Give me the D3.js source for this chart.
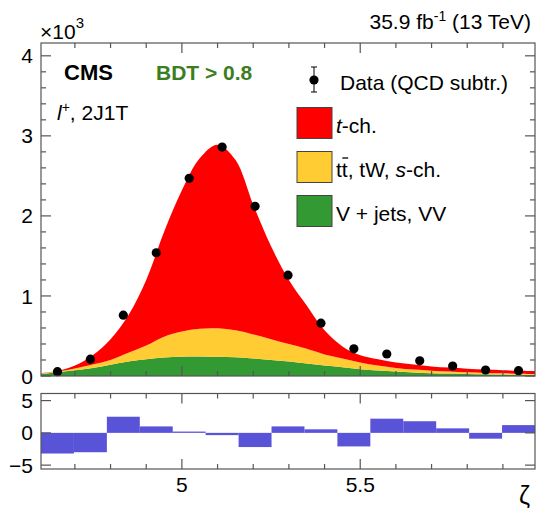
<!DOCTYPE html>
<html>
<head>
<meta charset="utf-8">
<script src="https://cdn.jsdelivr.net/npm/d3@7"></script>
<style>
  body { margin: 0; background: #fff; }
  text { font-family: "Liberation Sans", Arial, Helvetica, sans-serif; }
</style>
</head>
<body>
<svg id="chart"></svg>
<script>
// template sampling points in zeta, stacked components (events)
const zetaGrid = [4.60, 4.65, 4.70, 4.75, 4.80, 4.85, 4.90, 4.95, 5.00, 5.05, 5.10, 5.15, 5.20, 5.25, 5.30,
                  5.35, 5.40, 5.45, 5.50, 5.55, 5.60, 5.65, 5.70, 5.75, 5.80, 5.85, 5.90, 5.95, 6.00];
const vjets  = [22, 46, 72, 100, 140, 180, 210, 230, 240, 245, 240, 235, 220, 200, 180,
                155, 130, 110, 85, 68, 55, 45, 35, 30, 25, 21, 18, 15, 13];
const topBkg = [6, 9, 23, 45, 60, 110, 170, 260, 315, 345, 355, 335, 300, 260, 220,
                185, 140, 110, 85, 62, 45, 35, 31, 25, 21, 18, 15, 13, 11];
const tch    = [4, 7, 35, 115, 260, 470, 820, 1310, 1765, 2130, 2295, 2130, 1620, 1160, 800,
                540, 300, 150, 90, 80, 70, 65, 54, 50, 44, 41, 39, 37, 36];

// data histogram (15 bins)
const binRange = [4.605, 5.99];
const nBins = 15;
const dataCounts = [54, 210, 760, 1540, 2470, 2860, 2120, 1260, 660, 340, 275, 190, 125, 75, 66];
const dataErr    = [12, 20, 30, 40, 45, 50, 45, 35, 28, 22, 20, 17, 14, 12, 11];
const pulls      = [-3.2, -3.0, 2.5, 1.0, 0.2, -0.35, -2.2, 1.0, 0.55, -2.1, 2.2, 1.8, 0.7, -0.9, 1.2];

const yTickLabels = ['0', '1', '2', '3', '4'];
const pullTicks = [-5, 0, 5];
const pullLabels = ['\u22125', '0', '5'];
const xTickLabels = ['5', '5.5'];

const width = 537;
const height = 520;

const svg = d3.select('#chart')
  .attr('width', width)
  .attr('height', height);

const x = d3.scaleLinear().domain(binRange).range([41, 535]);
const y = d3.scaleLinear().domain([0, 4160]).range([376, 43]);
const yp = d3.scaleLinear().domain([-5.6, 6.1]).range([469, 393.5]);

const frameCol = '#555';
const fs = 21;

svg.append('defs').append('clipPath').attr('id', 'clipMain')
  .append('rect')
    .attr('x', x.range()[0]).attr('y', y.range()[1])
    .attr('width', x.range()[1] - x.range()[0])
    .attr('height', y.range()[0] - y.range()[1]);

// stacked templates
const table = zetaGrid.map((z, i) => ({z: z, vjets: vjets[i], top: topBkg[i], tch: tch[i]}));
const stack = d3.stack().keys(['vjets', 'top', 'tch'])(table);
const colours = {vjets: '#339933', top: '#ffcc33', tch: '#ff0000'};

const area = d3.area()
  .x(d => x(d.data.z))
  .y0(d => y(d[0]))
  .y1(d => y(d[1]))
  .curve(d3.curveCatmullRom);

svg.append('g')
  .attr('clip-path', 'url(#clipMain)')
  .selectAll('path')
  .data(stack)
  .enter().append('path')
    .attr('d', area)
    .attr('fill', d => colours[d.key]);

// data points
const binW = (binRange[1] - binRange[0]) / nBins;
const points = dataCounts.map((v, i) => ({z: binRange[0] + binW * (i + 0.5), v: v, e: dataErr[i]}));

svg.append('g')
  .selectAll('line')
  .data(points)
  .enter().append('line')
    .attr('x1', d => x(d.z)).attr('x2', d => x(d.z))
    .attr('y1', d => y(d.v - d.e)).attr('y2', d => y(d.v + d.e))
    .attr('stroke', '#000').attr('stroke-width', 1);

svg.append('g')
  .selectAll('circle')
  .data(points)
  .enter().append('circle')
    .attr('cx', d => x(d.z))
    .attr('cy', d => y(d.v))
    .attr('r', 4.6)
    .attr('fill', '#000');

// pull panel
const pullBins = pulls.map((p, i) => ({lo: binRange[0] + binW * i, hi: binRange[0] + binW * (i + 1), p: p}));
svg.append('g')
  .selectAll('rect')
  .data(pullBins)
  .enter().append('rect')
    .attr('x', d => x(d.lo))
    .attr('width', d => x(d.hi) - x(d.lo))
    .attr('y', d => yp(Math.max(0, d.p)))
    .attr('height', d => Math.abs(yp(d.p) - yp(0)))
    .attr('fill', '#5953d8');

// frames and ticks
function frame(yScale, yTicksMajor, yTicksMinor) {
  const g = svg.append('g');
  const [x0, x1] = x.range();
  const [yb, yt] = yScale.range();
  g.append('rect')
    .attr('x', x0).attr('y', yt)
    .attr('width', x1 - x0).attr('height', yb - yt)
    .attr('fill', 'none').attr('stroke', frameCol).attr('stroke-width', 1.2);
  const xt = x.ticks(15);
  xt.forEach(t => {
    const major = Math.abs(t * 2 - Math.round(t * 2)) < 1e-6;
    const len = major ? 10 : 5;
    g.append('line').attr('x1', x(t)).attr('x2', x(t)).attr('y1', yb).attr('y2', yb - len)
      .attr('stroke', frameCol).attr('stroke-width', 1.2);
    g.append('line').attr('x1', x(t)).attr('x2', x(t)).attr('y1', yt).attr('y2', yt + len)
      .attr('stroke', frameCol).attr('stroke-width', 1.2);
  });
  yTicksMajor.forEach(t => {
    g.append('line').attr('x1', x0).attr('x2', x0 + 10).attr('y1', yScale(t)).attr('y2', yScale(t))
      .attr('stroke', frameCol).attr('stroke-width', 1.2);
    g.append('line').attr('x1', x1).attr('x2', x1 - 10).attr('y1', yScale(t)).attr('y2', yScale(t))
      .attr('stroke', frameCol).attr('stroke-width', 1.2);
  });
  yTicksMinor.forEach(t => {
    g.append('line').attr('x1', x0).attr('x2', x0 + 5).attr('y1', yScale(t)).attr('y2', yScale(t))
      .attr('stroke', frameCol).attr('stroke-width', 1.2);
    g.append('line').attr('x1', x1).attr('x2', x1 - 5).attr('y1', yScale(t)).attr('y2', yScale(t))
      .attr('stroke', frameCol).attr('stroke-width', 1.2);
  });
}

const yMajor = d3.range(0, 4001, 1000);
const yMinor = d3.range(0, 4161, 200).filter(t => t % 1000 !== 0);
frame(y, yMajor, yMinor);
frame(yp, pullTicks, []);

// y tick labels
svg.append('g')
  .selectAll('text')
  .data(yMajor)
  .enter().append('text')
    .attr('x', 33).attr('y', d => y(d)).attr('dy', '0.36em')
    .attr('text-anchor', 'end').attr('font-size', fs)
    .text((d, i) => yTickLabels[i]);

svg.append('g')
  .selectAll('text')
  .data(pullTicks)
  .enter().append('text')
    .attr('x', 33).attr('y', d => yp(d)).attr('dy', '0.36em')
    .attr('text-anchor', 'end').attr('font-size', fs)
    .text((d, i) => pullLabels[i]);

svg.append('g')
  .selectAll('text')
  .data(xTickLabels)
  .enter().append('text')
    .attr('x', d => x(+d)).attr('y', 492)
    .attr('text-anchor', 'middle').attr('font-size', fs)
    .text(d => d);

// axis titles and labels
svg.append('text').attr('x', 530).attr('y', 504).attr('text-anchor', 'end')
  .attr('font-size', 25).text('\u03b6');

const mult = svg.append('text').attr('x', 40).attr('y', 39).attr('font-size', fs);
mult.append('tspan').text('\u00d710');
mult.append('tspan').attr('dy', -11).attr('font-size', 15).text('3');

const lumi = svg.append('text').attr('x', 531).attr('y', 29).attr('text-anchor', 'end').attr('font-size', fs);
lumi.append('tspan').text('35.9 fb');
lumi.append('tspan').attr('dy', -8).attr('font-size', 14).text('-1');
lumi.append('tspan').attr('dy', 8).text(' (13 TeV)');

svg.append('text').attr('x', 64).attr('y', 80).attr('font-size', 22).attr('font-weight', 'bold')
  .text('CMS');
svg.append('text').attr('x', 156).attr('y', 80).attr('font-size', fs).attr('font-weight', 'bold')
  .attr('fill', '#3c7d22').text('BDT > 0.8');

const chan = svg.append('text').attr('x', 57).attr('y', 120).attr('font-size', fs);
chan.append('tspan').attr('font-style', 'italic').text('l');
chan.append('tspan').attr('dy', -8).attr('font-size', 14).text('+');
chan.append('tspan').attr('dy', 8).text(', 2J1T');

// legend
const leg = svg.append('g');
leg.append('line').attr('x1', 314).attr('x2', 314).attr('y1', 67).attr('y2', 92)
  .attr('stroke', '#000').attr('stroke-width', 1);
leg.append('line').attr('x1', 311).attr('x2', 317).attr('y1', 67).attr('y2', 67)
  .attr('stroke', '#000').attr('stroke-width', 1);
leg.append('line').attr('x1', 311).attr('x2', 317).attr('y1', 92).attr('y2', 92)
  .attr('stroke', '#000').attr('stroke-width', 1);
leg.append('circle').attr('cx', 314).attr('cy', 80).attr('r', 4.6).attr('fill', '#000');
leg.append('text').attr('x', 340).attr('y', 90).attr('font-size', fs).text('Data (QCD subtr.)');

const legKeys = ['tch', 'top', 'vjets'];
legKeys.forEach((k, i) => {
  const cy = 123 + i * 44;
  leg.append('rect').attr('x', 297).attr('y', cy - 15.5).attr('width', 35).attr('height', 31)
    .attr('fill', colours[k]).attr('stroke', '#444').attr('stroke-width', 1);
});

const t1 = leg.append('text').attr('x', 336).attr('y', 133).attr('font-size', fs);
t1.append('tspan').attr('font-style', 'italic').text('t');
t1.append('tspan').text('-ch.');

const t2 = leg.append('text').attr('x', 336).attr('y', 177).attr('font-size', fs);
t2.append('tspan').text('tt');
t2.append('tspan').text(', tW, ');
t2.append('tspan').attr('font-style', 'italic').text('s');
t2.append('tspan').text('-ch.');
// bar over the second t (anti-top)
const tNode = t2.node();
const barX0 = tNode.getStartPositionOfChar(1).x;
const barX1 = tNode.getEndPositionOfChar(1).x;
leg.append('line')
  .attr('x1', barX0 + 0.5).attr('x2', barX1 + 0.5)
  .attr('y1', 158).attr('y2', 158)
  .attr('stroke', '#000').attr('stroke-width', 1.3);

leg.append('text').attr('x', 336).attr('y', 221).attr('font-size', fs).text('V + jets, VV');
</script>
</body>
</html>
